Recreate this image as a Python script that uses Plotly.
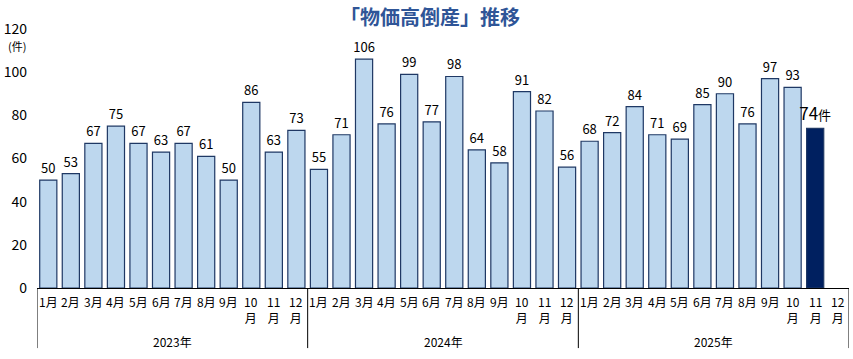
import plotly.graph_objects as go

years = ["2023年", "2024年", "2025年"]
months = ["1月", "2月", "3月", "4月", "5月", "6月", "7月", "8月", "9月", "10<br>月", "11<br>月", "12<br>月"]
values_2023 = [50, 53, 67, 75, 67, 63, 67, 61, 50, 86, 63, 73]
values_2024 = [55, 71, 106, 76, 99, 77, 98, 64, 58, 91, 82, 56]
values_2025 = [68, 72, 84, 71, 69, 85, 90, 76, 97, 93, 74, None]
y_ticks = [0, 20, 40, 60, 80, 100, 120]

FONT = "Noto Sans CJK JP"
LIGHT = "#bdd7ee"
DARK = "#002060"
EDGE = "#1f3864"

values = values_2023 + values_2024 + values_2025
n = len(values)
xs = list(range(n))
last_idx = max(i for i, v in enumerate(values) if v is not None)

colors = [DARK if i == last_idx else LIGHT for i in xs]
texts = []
sizes = []
for i, v in enumerate(values):
    if v is None:
        texts.append("")
        sizes.append(13)
    elif i == last_idx:
        texts.append(f"{v}<span style='font-size:13px'>件</span>")
        sizes.append(17)
    else:
        texts.append(str(v))
        sizes.append(13)

fig = go.Figure()
fig.add_trace(go.Bar(
    x=xs, y=values,
    marker=dict(color=colors, line=dict(color=EDGE, width=1.2)),
    text=texts, textposition="outside", cliponaxis=False, constraintext="none",
    textfont=dict(family=FONT, size=sizes, color="#000000"),
    width=0.76,
    hoverinfo="skip",
))

annotations = []
# month labels
for i in xs:
    annotations.append(dict(
        x=i, y=0, xref="x", yref="paper", yanchor="top", yshift=-3,
        text=months[i % 12], showarrow=False,
        font=dict(family=FONT, size=12, color="#000000"),
        align="center",
    ))
# year labels and separators
shapes = []
for k, yr in enumerate(years):
    annotations.append(dict(
        x=k * 12 + 5.5, y=0, xref="x", yref="paper", yanchor="top", yshift=-43,
        text=yr, showarrow=False,
        font=dict(family=FONT, size=12, color="#000000"),
    ))
for k in range(len(years) + 1):
    xb = k * 12 - 0.5
    shapes.append(dict(type="line", xref="x", yref="paper", x0=xb, x1=xb,
                       y0=0, y1=-0.232, line=dict(color="#000000", width=1)))
# unit label
annotations.append(dict(
    x=0, y=120, xref="paper", yref="y", xanchor="right", yanchor="top",
    xshift=-9, yshift=-7, text="(件)", showarrow=False,
    font=dict(family=FONT, size=11, color="#000000"),
))

fig.update_layout(
    width=853, height=359,
    margin=dict(l=37, r=4, t=29, b=71),
    paper_bgcolor="#ffffff", plot_bgcolor="#ffffff",
    title=dict(text="<b>「物価高倒産」推移</b>", x=0.504, xanchor="center",
               y=0.95, yanchor="middle",
               font=dict(family=FONT, size=20, color="#2f5597")),
    showlegend=False,
    xaxis=dict(range=[-0.5, n - 0.5], showticklabels=False, showgrid=False,
               zeroline=False, showline=True, linecolor="#000000", linewidth=1,
               ticks="", automargin=False),
    yaxis=dict(range=[0, 120], tickvals=y_ticks, showgrid=False, zeroline=False,
               showline=False, ticks="", ticklabelstandoff=9, automargin=False,
               tickfont=dict(family=FONT, size=14, color="#000000")),
    annotations=annotations,
    shapes=shapes,
    font=dict(family=FONT),
)

fig.write_html("out.html", config={"displayModeBar": False},
               post_script="document.body.style.margin='0';")
